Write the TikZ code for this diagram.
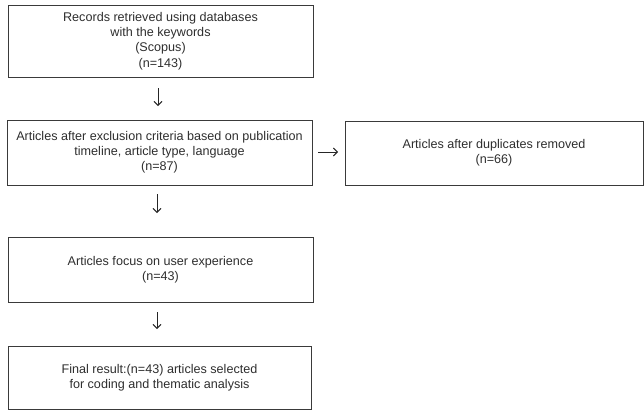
\documentclass[tikz,border=0pt]{standalone}
\usepackage{fontspec}
\setmainfont{Liberation Sans}
\usetikzlibrary{arrows.meta}
\definecolor{txt}{HTML}{2E2E2E}
\definecolor{edge}{HTML}{3A3A3A}
\tikzset{
  box/.style={draw=edge, line width=1pt, rectangle, inner sep=0pt, align=center,
    text=txt, font=\fontsize{12.6pt}{15.2pt}\selectfont},
  flow/.style={draw=black!85, line width=0.9pt, -{Straight Barb[length=4pt,width=8pt,line width=0.9pt]}}
}
\begin{document}
\begin{tikzpicture}[x=1pt,y=-1pt]
\useasboundingbox (0,0) rectangle (644,410);
\node[box, minimum width=305pt, minimum height=72pt] (b1) at (160.5,41)
  {Records retrieved using databases\\with the keywords\\(Scopus)\\(n=143)};
\node[box, minimum width=305pt, minimum height=65pt] (b2) at (159.5,152.5)
  {Articles after exclusion criteria based on publication\\timeline, article type, language\\(n=87)};
\node[box, minimum width=298pt, minimum height=64pt] (b5) at (494,153)
  {Articles after duplicates removed\\(n=66)};
\node[box, minimum width=305pt, minimum height=65pt] (b3) at (160.5,269.5)
  {Articles focus on user experience\\(n=43)};
\node[box, minimum width=303pt, minimum height=63pt] (b4) at (159.5,377.5)
  {Final result:(n=43) articles selected\\for coding and thematic analysis};
\coordinate (a1s) at (158,88); \coordinate (a1e) at (158,106);
\coordinate (a2s) at (157,194); \coordinate (a2e) at (157,213);
\coordinate (a3s) at (157,312); \coordinate (a3e) at (157,329);
\coordinate (a4s) at (318,152); \coordinate (a4e) at (338,152);
\draw[flow] (a1s) -- (a1e);
\draw[flow] (a2s) -- (a2e);
\draw[flow] (a3s) -- (a3e);
\draw[flow] (a4s) -- (a4e);
\end{tikzpicture}
\end{document}
